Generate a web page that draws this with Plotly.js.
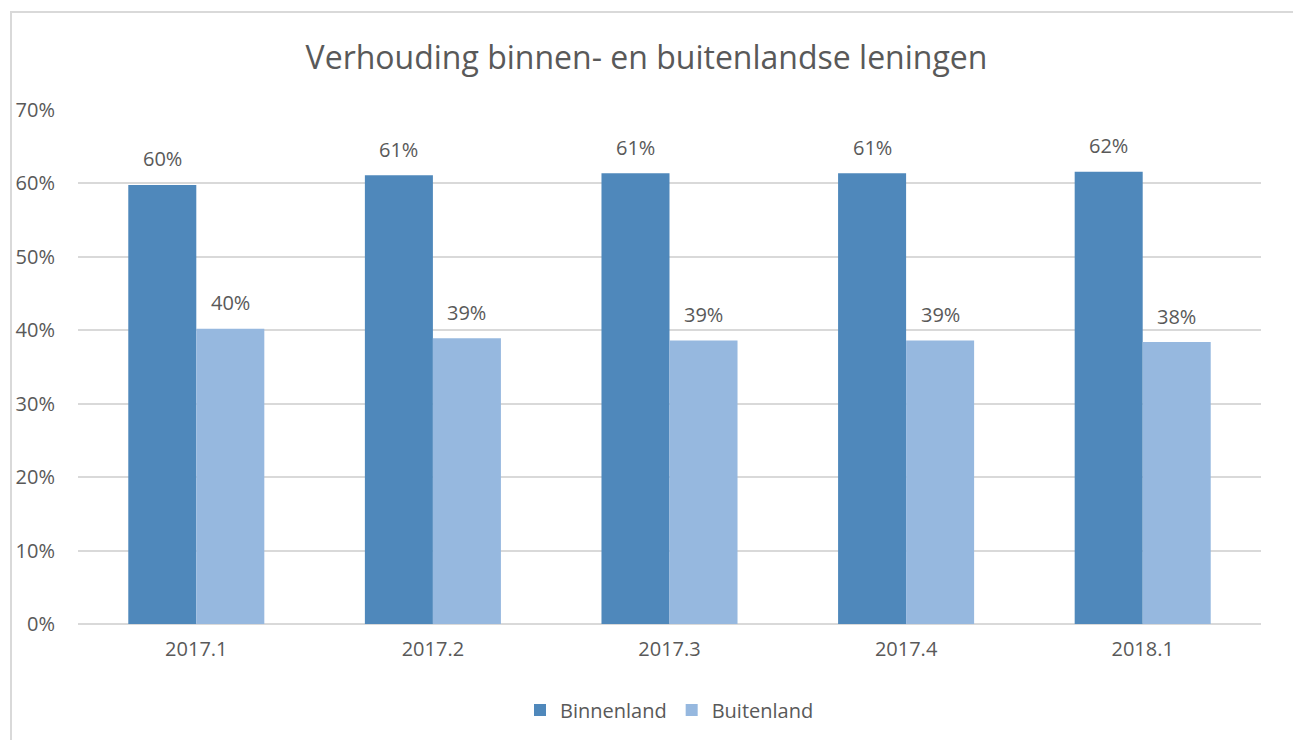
<!DOCTYPE html>
<html>
<head>
<meta charset="utf-8">
<script src="https://cdn.plot.ly/plotly-3.0.1.min.js"></script>
<style>
  html, body { margin: 0; padding: 0; background: #fff; }
  #wrap { position: relative; width: 1293px; height: 740px; overflow: hidden; }
  #frame { position: absolute; left: 10px; top: 11px; width: 1300px; height: 760px;
           border-left: 2px solid #d9d9d9; border-top: 2px solid #d9d9d9; box-sizing: border-box; }
  #chart { position: absolute; left: 0; top: 0; width: 1293px; height: 740px; }
</style>
</head>
<body>
<div id="wrap">
  <div id="chart"></div>
  <div id="frame"></div>
</div>
<script>
const categories = ['2017.1', '2017.2', '2017.3', '2017.4', '2018.1'];
const binnenland = [59.8, 61.1, 61.4, 61.4, 61.6];
const buitenland = [40.2, 38.9, 38.6, 38.6, 38.4];
const seriesNames = ['Binnenland', 'Buitenland'];
const seriesColors = ['#4f88bb', '#96b8df'];
const tickVals = [0, 10, 20, 30, 40, 50, 60, 70];

const fontFam = 'Open Sans, Liberation Sans, sans-serif';
const textColor = '#595959';

const traces = [binnenland, buitenland].map((vals, i) => ({
  type: 'bar',
  name: seriesNames[i],
  x: categories,
  y: vals,
  marker: { color: seriesColors[i] },
  hoverinfo: 'x+y+name'
}));

const annotations = [];
[binnenland, buitenland].forEach((vals, i) => {
  vals.forEach((v, j) => {
    annotations.push({
      x: j, y: v, xref: 'x', yref: 'y',
      text: Math.round(v) + '%',
      showarrow: false,
      xshift: i === 0 ? -34 : 34,
      yshift: 26,
      font: { family: fontFam, size: 20, color: textColor }
    });
  });
});

const layout = {
  width: 1293, height: 740,
  margin: { l: 78, r: 32, t: 110, b: 115 },
  paper_bgcolor: 'rgba(0,0,0,0)',
  plot_bgcolor: 'rgba(0,0,0,0)',
  title: {
    text: 'Verhouding binnen- en buitenlandse leningen',
    font: { family: fontFam, size: 32, color: textColor },
    x: 0.5, xanchor: 'center', y: 0.922, yanchor: 'middle'
  },
  barmode: 'group',
  bargap: 0.425,
  bargroupgap: 0,
  xaxis: {
    type: 'category',
    range: [-0.5, 4.5],
    tickfont: { family: fontFam, size: 20, color: textColor },
    showgrid: false, zeroline: false, showline: false, ticks: '',
    ticklabelstandoff: 11
  },
  yaxis: {
    range: [0, 70],
    tickvals: tickVals,
    ticktext: tickVals.map(v => v + '%'),
    tickfont: { family: fontFam, size: 20, color: textColor },
    showgrid: true, gridcolor: '#d9d9d9', gridwidth: 2,
    zeroline: true, zerolinecolor: '#d9d9d9', zerolinewidth: 2,
    showline: false, ticks: '',
    ticklabelstandoff: 22,
    automargin: false
  },
  showlegend: true,
  legend: {
    orientation: 'h', x: 0.5, xanchor: 'center', y: -0.165, yanchor: 'middle',
    font: { family: fontFam, size: 20, color: textColor },
    itemclick: false
  },
  annotations: annotations
};

Plotly.newPlot('chart', traces, layout, { displayModeBar: false, staticPlot: true });
</script>
</body>
</html>
